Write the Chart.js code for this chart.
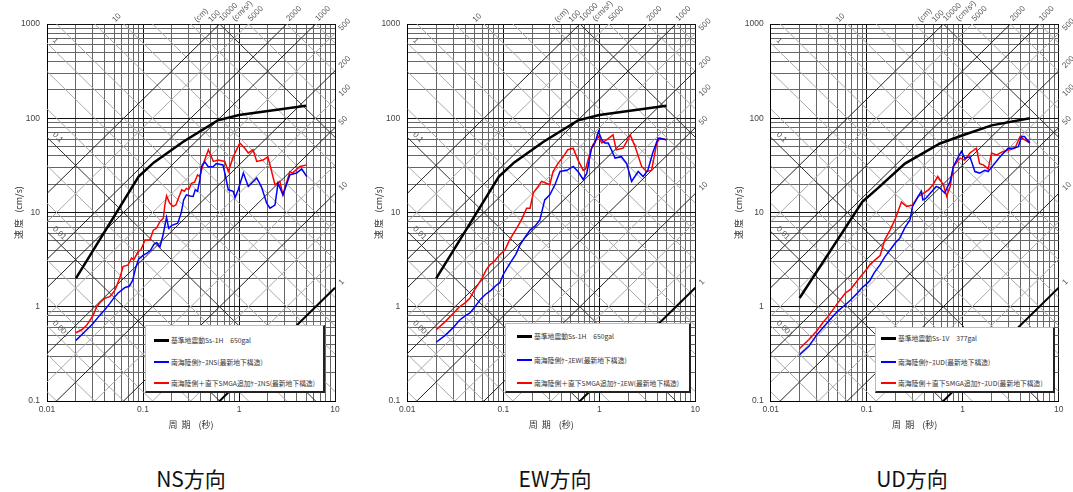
<!DOCTYPE html>
<html><head><meta charset="utf-8">
<script src="https://cdn.jsdelivr.net/npm/chart.js@4.4.1/dist/chart.umd.min.js"></script>
<style>
body{margin:0;background:#fff;width:1073px;height:492px;overflow:hidden;position:relative;font-family:'Noto Sans CJK JP','Noto Sans',sans-serif;}
.panel{position:absolute;top:0;}
.legend{position:absolute;background:#fff;border-top:1px solid #bbb;border-left:1px solid #bbb;border-right:2px solid #222;border-bottom:2px solid #222;box-sizing:border-box;font-size:6.8px;color:#333;}
.row{position:absolute;display:flex;align-items:center;white-space:nowrap;height:10px;line-height:10px;}
.sw{display:inline-block;width:15px;margin-right:2px;}
.ttl{position:absolute;top:468px;font-size:21px;line-height:1;color:#111;transform:translateX(-50%);white-space:nowrap;}
</style></head>
<body>
<div class="panel" style="left:0px"><canvas id="c1" width="360" height="440"></canvas></div>
<div class="panel" style="left:360px"><canvas id="c2" width="360" height="440"></canvas></div>
<div class="panel" style="left:720px"><canvas id="c3" width="353" height="440"></canvas></div>
<div id="legends"></div>
<div class="ttl" style="left:191px">NS方向</div>
<div class="ttl" style="left:555px">EW方向</div>
<div class="ttl" style="left:912px">UD方向</div>
<script>
// ---------- axis tick labels ----------
const xTickValues = [0.01, 0.1, 1, 10];
const xTickLabels = ['0.01', '0.1', '1', '10'];
const yTickValues = [0.1, 1, 10, 100, 1000];
const yTickLabels = ['0.1', '1', '10', '100', '1000'];
const xTitle = '周  期    (秒)';
const yTitle = '速 度   (cm/s)';

// ---------- tripartite guide lines ----------
const accelValues = [1, 2, 5, 10, 20, 50, 100, 200, 500, 1000, 2000, 5000, 10000];
const accelDark = [1, 10, 50, 200, 1000, 2000, 10000];
const accelLabeled = [1, 10, 50, 100, 200, 500, 1000, 2000, 5000, 10000];
const accelLabelText = ['1', '10', '50', '100', '200', '500', '1000', '2000', '5000', '10000'];
const dispValues = [0.0001, 0.0002, 0.0005, 0.001, 0.002, 0.005, 0.01, 0.02, 0.05, 0.1, 0.2, 0.5, 1, 2, 5, 10, 20, 50, 100, 200, 500, 1000];
const dispDark = [0.01, 0.1, 100];
const dispLabeled = [0.001, 0.01, 0.1, 1, 10, 100];
const dispLabelText = ['0.001', '0.01', '0.1', '1', '10', '100'];

// ---------- legend texts ----------
const legendH = ['基準地震動Ss-1H　650gal', '南海陸側ｹｰｽNS(最新地下構造)', '南海陸側＋直下SMGA追加ｹｰｽNS(最新地下構造)'];
const legendEW = ['基準地震動Ss-1H　650gal', '南海陸側ｹｰｽEW(最新地下構造)', '南海陸側＋直下SMGA追加ｹｰｽEW(最新地下構造)'];
const legendUD = ['基準地震動Ss-1V　377gal', '南海陸側ｹｰｽUD(最新地下構造)', '南海陸側＋直下SMGA追加ｹｰｽUD(最新地下構造)'];
const panelTitles = ['NS方向', 'EW方向', 'UD方向'];

// ---------- series: design spectra ----------
const ssH_T = [0.02, 0.09, 0.13, 0.26, 0.6, 1.0, 5.0];
const ssH_V = [2.0, 24, 34, 56, 95, 108, 136];
const ssV_T = [0.02, 0.09, 0.13, 0.25, 0.58, 1.0, 2.0, 5.0];
const ssV_V = [1.24, 13, 18, 33, 54, 66, 84, 100];

// ---------- NS ----------
const nsBlue_T = [0.02,0.025,0.03,0.035,0.04,0.045,0.05,0.055,0.06,0.065,0.072,0.078,0.084,0.09,0.1,0.11,0.12,0.13,0.139,0.15,0.162,0.17,0.176,0.185,0.2,0.23,0.25,0.265,0.283,0.31,0.333,0.35,0.37,0.39,0.408,0.44,0.48,0.54,0.58,0.68,0.72,0.774,0.87,0.91,0.98,1.11,1.25,1.53,1.71,1.94,2.1,2.37,2.55,2.87,3.39,3.98,4.5,5.07];
const nsBlue_V = [0.44,0.55,0.66,0.8,0.93,1.08,1.25,1.4,1.5,1.6,1.65,1.9,2.6,3.2,3.5,3.7,4.0,4.6,4.8,4.3,5.8,7.5,8.9,6.8,7.3,7.7,9.9,13.6,15.4,15.0,14.8,17.4,16.8,22,30.8,34.5,30.5,30.8,33,32,25,17.4,16.8,14.4,17.4,26.2,18.9,23.2,18.9,12.6,11.1,12.0,20.4,15.4,25.1,26.2,29,24.1];
const nsRed_T = [0.02,0.023,0.026,0.03,0.033,0.036,0.04,0.045,0.05,0.053,0.058,0.062,0.07,0.076,0.08,0.089,0.095,0.105,0.118,0.128,0.138,0.15,0.163,0.169,0.176,0.19,0.206,0.22,0.253,0.27,0.283,0.3,0.32,0.345,0.37,0.39,0.425,0.48,0.54,0.61,0.71,0.774,0.87,1.02,1.15,1.25,1.4,1.53,1.78,2.0,2.37,2.66,2.87,3.39,3.6,4.32,5.07];
const nsRed_V = [0.53,0.57,0.64,0.8,1.0,1.12,1.23,1.28,1.45,1.64,2.1,2.67,2.78,3.3,3.15,3.85,4.0,5.1,5.1,6.5,6.8,8.0,8.7,12.0,15.0,12.5,11.6,12.0,17.4,16.8,18,17.5,20.4,21,25.1,24.1,33,46.3,34.8,36,34.8,27.2,38.9,54.6,48.1,42.8,46.3,34.8,36,39,19.7,21.4,15.4,27.2,26.2,30.8,32];

// ---------- EW ----------
const ewBlue_T = [0.02,0.025,0.03,0.035,0.04,0.045,0.05,0.057,0.065,0.075,0.085,0.092,0.1,0.11,0.12,0.135,0.149,0.165,0.19,0.215,0.241,0.27,0.305,0.345,0.39,0.46,0.535,0.6,0.68,0.74,0.83,0.9,0.98,1.06,1.14,1.24,1.46,1.7,1.93,2.17,2.54,2.86,3.2,3.6,4.1,5.0];
const ewBlue_V = [0.42,0.5,0.6,0.72,0.8,0.86,0.98,1.18,1.35,1.5,1.7,1.8,2.2,2.6,3.0,3.6,4.5,5.3,6.5,7.2,8.4,13.6,15.4,19.7,27.2,28,30.8,27.2,22.4,26,48.1,54.6,72.4,59,54.6,54.6,37.8,39.1,33,21.4,27.2,24.1,28,42.8,61.5,59];
const ewRed_T = [0.02,0.025,0.03,0.035,0.04,0.045,0.05,0.06,0.067,0.073,0.08,0.09,0.104,0.115,0.125,0.14,0.155,0.175,0.19,0.205,0.23,0.25,0.28,0.305,0.33,0.37,0.42,0.47,0.535,0.6,0.68,0.72,0.8,0.86,0.98,1.06,1.19,1.39,1.5,1.77,2.1,2.36,2.76,3.1,3.5,3.97,4.3,5.0];
const ewRed_V = [0.57,0.7,0.85,1.0,1.1,1.24,1.5,2.0,2.5,2.8,3.0,3.5,4.0,5.0,5.8,7.0,8.4,11.1,11.1,16.1,18.9,21.4,20.4,19.7,27.2,33,39,46.3,48.1,36,28,29,42.8,52.5,64.2,54.6,59,66.6,46.3,48.1,66.6,50,30.8,27.2,28,54.6,61.5,59];

// ---------- UD ----------
const udBlue_T = [0.02,0.025,0.03,0.035,0.04,0.05,0.06,0.068,0.08,0.09,0.1,0.108,0.12,0.138,0.155,0.175,0.2,0.22,0.25,0.283,0.3,0.345,0.37,0.385,0.41,0.53,0.57,0.65,0.74,0.8,0.9,0.97,1.05,1.19,1.34,1.5,1.7,1.84,2.1,2.45,2.97,3.36,3.8,4.1,4.4,5.0];
const udBlue_V = [0.31,0.38,0.5,0.6,0.7,0.9,1.05,1.18,1.4,1.6,1.75,1.9,2.3,2.8,3.4,4.0,4.8,5.3,6.9,8.4,11.6,14.9,16.8,13.6,14,18.9,18.4,16.1,21.4,30.8,39,44.5,37.8,39,27.2,26.2,28,27.2,32,39,48.1,48.1,50,64,64,54.6];
const udRed_T = [0.02,0.025,0.03,0.035,0.04,0.05,0.06,0.068,0.08,0.09,0.1,0.108,0.125,0.138,0.155,0.175,0.197,0.23,0.26,0.3,0.345,0.37,0.44,0.49,0.55,0.63,0.68,0.74,0.8,0.94,1.05,1.19,1.39,1.5,1.64,1.84,2.0,2.25,2.65,3.1,3.5,3.96,4.45,5.0];
const udRed_V = [0.36,0.45,0.55,0.68,0.8,1.1,1.4,1.53,1.9,2.2,2.5,2.8,3.2,3.5,5.2,6.5,8.4,12.9,11.6,12.0,14.9,15.4,17.4,19.7,24.1,19.7,14.9,18.9,30.8,37.8,36,42.8,48.1,33,32,29,42.8,40.8,44.5,46.3,48.1,64,59,54.6];

// ---------- helpers ----------
const TWO_PI = 2 * Math.PI;
const xMin = xTickValues[0], xMax = xTickValues[xTickValues.length - 1];
const yMin = yTickValues[0], yMax = yTickValues[yTickValues.length - 1];
function gridValues(lo, hi) {
  const out = [];
  for (let e = Math.round(Math.log10(lo)); e < Math.round(Math.log10(hi)); e++)
    for (let m = 1; m <= 9; m++) out.push(+(m * Math.pow(10, e)).toPrecision(4));
  out.push(hi);
  return out;
}
const isMajor = v => Math.abs(Math.log10(v) - Math.round(Math.log10(v))) < 1e-6;
const pts = (T, V) => T.map((t, i) => ({ x: t, y: V[i] }));

function guideDatasets() {
  const ds = [];
  accelValues.forEach(a => {
    ds.push({
      data: [{ x: xMin, y: a * xMin / TWO_PI }, { x: xMax, y: a * xMax / TWO_PI }],
      borderColor: a === 1 ? '#000' : (accelDark.includes(a) ? '#222' : '#aaa'),
      borderWidth: a === 1 ? 2 : 1, pointRadius: 0, showLine: true, order: 5
    });
  });
  dispValues.forEach(d => {
    ds.push({
      data: [{ x: xMin, y: TWO_PI * d / xMin }, { x: xMax, y: TWO_PI * d / xMax }],
      borderColor: dispDark.includes(d) ? '#333' : '#aaa',
      borderWidth: 1, pointRadius: 0, showLine: true, order: 5
    });
  });
  return ds;
}

const diagLabelPlugin = {
  id: 'diagLabels',
  afterDatasetsDraw(chart) {
    const { ctx, scales: { x, y } } = chart;
    ctx.save();
    ctx.font = '8px "Liberation Sans"';
    ctx.fillStyle = '#555';
    ctx.textAlign = 'left';
    ctx.textBaseline = 'middle';
    const put = (txt, px, py, ang) => { ctx.save(); ctx.translate(px, py); ctx.rotate(ang); ctx.fillText(txt, 0, 0); ctx.restore(); };
    accelLabeled.forEach((a, i) => {
      const vR = a * xMax / TWO_PI;
      if (vR <= yMax) {
        put(accelLabelText[i], x.getPixelForValue(xMax) + 5, y.getPixelForValue(vR) - 4, -Math.PI / 4);
      } else {
        const t = yMax * TWO_PI / a;
        put(accelLabelText[i], x.getPixelForValue(t) + 1, y.getPixelForValue(yMax) - 4, -Math.PI / 4);
        if (a === 10000) put('(cm/s²)', x.getPixelForValue(t) + 14, y.getPixelForValue(yMax) - 4, -Math.PI / 4);
      }
    });
    dispLabeled.forEach((d, i) => {
      const vL = TWO_PI * d / xMin;
      if (vL <= yMax) {
        ctx.textBaseline = 'bottom';
        put(dispLabelText[i], x.getPixelForValue(xMin) + 4, y.getPixelForValue(vL) - 1, Math.PI / 4);
        ctx.textBaseline = 'middle';
      } else {
        const t = TWO_PI * d / yMax;
        put(dispLabelText[i], x.getPixelForValue(t) - 10, y.getPixelForValue(yMax) - 3, -Math.PI / 4);
        if (d === 100) put('(cm)', x.getPixelForValue(t) - 24, y.getPixelForValue(yMax) - 3, -Math.PI / 4);
      }
    });
    ctx.restore();
  }
};

function makeChart(id, yAxisWidth, padRight, series) {
  const xGrid = gridValues(xMin, xMax);
  const yGrid = gridValues(yMin, yMax);
  const curves = series.map(s => ({
    data: pts(s.T, s.V), borderColor: s.color, borderWidth: s.width,
    pointRadius: 0, showLine: true, order: 0, tension: 0
  }));
  return new Chart(document.getElementById(id), {
    type: 'scatter',
    data: { datasets: curves.concat(guideDatasets()) },
    plugins: [diagLabelPlugin],
    options: {
      responsive: false, animation: false, devicePixelRatio: 1, events: [],
      layout: { padding: { left: 0, top: 24, right: padRight, bottom: 0 } },
      plugins: { legend: { display: false }, tooltip: { enabled: false } },
      scales: {
        x: {
          type: 'logarithmic', min: xMin, max: xMax,
          afterBuildTicks: s => { s.ticks = xGrid.map(v => ({ value: v })); },
          afterFit: s => { s.height = 39; },
          ticks: {
            autoSkip: false, maxRotation: 0, padding: 4, color: '#444',
            font: { family: 'Liberation Sans', size: 8.5 },
            callback: v => { const k = xTickValues.findIndex(t => Math.abs(t - v) / t < 1e-6); return k >= 0 ? xTickLabels[k] : ''; }
          },
          grid: { drawTicks: false, color: c => (c.tick && isMajor(c.tick.value)) ? '#111' : '#666', lineWidth: 1 },
          border: { display: true, color: '#000', width: 1 },
          title: { display: true, text: xTitle, color: '#333', font: { family: 'Noto Sans CJK JP', size: 9 }, padding: { top: 0, bottom: 10 } }
        },
        y: {
          type: 'logarithmic', min: yMin, max: yMax,
          afterBuildTicks: s => { s.ticks = yGrid.map(v => ({ value: v })); },
          afterFit: s => { s.width = yAxisWidth; },
          ticks: {
            autoSkip: false, padding: 7, color: '#444',
            font: { family: 'Liberation Sans', size: 8.5 },
            callback: v => { const k = yTickValues.findIndex(t => Math.abs(t - v) / t < 1e-6); return k >= 0 ? yTickLabels[k] : ''; }
          },
          grid: { drawTicks: false, color: c => (c.tick && isMajor(c.tick.value)) ? '#111' : '#666', lineWidth: 1 },
          border: { display: true, color: '#000', width: 1 },
          title: { display: true, text: yTitle, color: '#333', font: { family: 'Noto Sans CJK JP', size: 9 }, padding: { top: 13, bottom: 0 } }
        }
      }
    }
  });
}

makeChart('c1', 47, 25, [
  { T: ssH_T, V: ssH_V, color: '#000', width: 2.5 },
  { T: nsBlue_T, V: nsBlue_V, color: '#0000ff', width: 1.5 },
  { T: nsRed_T, V: nsRed_V, color: '#ff0000', width: 1.5 }
]);
makeChart('c2', 47.3, 24.7, [
  { T: ssH_T, V: ssH_V, color: '#000', width: 2.5 },
  { T: ewBlue_T, V: ewBlue_V, color: '#0000ff', width: 1.5 },
  { T: ewRed_T, V: ewRed_V, color: '#ff0000', width: 1.5 }
]);
makeChart('c3', 50.7, 14.3, [
  { T: ssV_T, V: ssV_V, color: '#000', width: 2.5 },
  { T: udBlue_T, V: udBlue_V, color: '#0000ff', width: 1.5 },
  { T: udRed_T, V: udRed_V, color: '#ff0000', width: 1.5 }
]);

// ---------- HTML legends ----------
const legendBoxes = [
  { texts: legendH, left: 145, top: 325, width: 180, height: 68, sw: 8, rows: [14, 36, 57] },
  { texts: legendEW, left: 505, top: 323, width: 186, height: 70, sw: 11, rows: [12, 36, 59] },
  { texts: legendUD, left: 875, top: 327, width: 180, height: 66, sw: 5, rows: [10, 34, 55] }
];
const swStyles = [{ c: '#000', h: 3 }, { c: '#0000ff', h: 1.5 }, { c: '#ff0000', h: 1.5 }];
const host = document.getElementById('legends');
legendBoxes.forEach(b => {
  const box = document.createElement('div');
  box.className = 'legend';
  Object.assign(box.style, { left: b.left + 'px', top: b.top + 'px', width: b.width + 'px', height: b.height + 'px' });
  b.texts.forEach((t, i) => {
    const row = document.createElement('div');
    row.className = 'row';
    row.style.left = b.sw + 'px';
    row.style.top = (b.rows[i] - 5) + 'px';
    const sw = document.createElement('span');
    sw.className = 'sw';
    sw.style.height = swStyles[i].h + 'px';
    sw.style.background = swStyles[i].c;
    const tx = document.createElement('span');
    tx.textContent = t;
    row.appendChild(sw); row.appendChild(tx);
    box.appendChild(row);
  });
  host.appendChild(box);
});
</script>
</body></html>
